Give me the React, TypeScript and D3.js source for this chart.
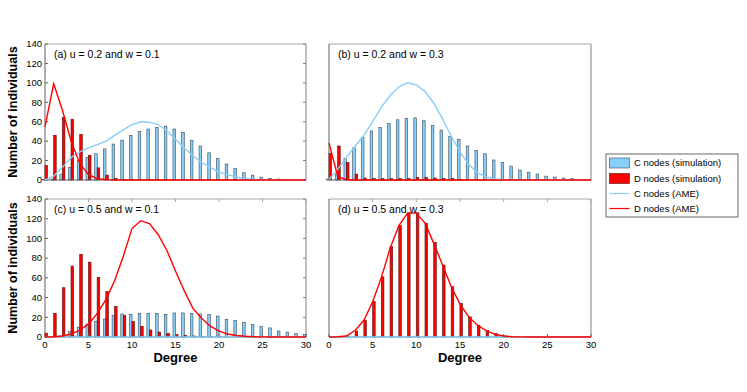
import React from "react";
import * as d3 from "d3";

const degrees = d3.range(0, 31);

// Panel (a): u = 0.2, w = 0.1
const aCSim = [0.5, 1, 6, 13, 20, 23, 27, 32, 37, 41, 46, 50, 52.5, 54, 55.5, 52.5, 49, 41, 35, 28, 22, 16.5, 11.7, 7.5, 5, 3, 1.7, 1, 0.5, 0.2, 0];
const aDSim = [15, 46, 64.5, 62.5, 47, 25.5, 12.5, 5, 1.5, 0.5, 0, 0, 0, 0, 0, 0, 0, 0, 0, 0, 0, 0, 0, 0, 0, 0, 0, 0, 0, 0, 0];
const aCAme = [0, 4, 13, 23, 29, 33, 36.5, 40, 46, 51.5, 57, 60, 59.5, 57, 51, 42, 33, 25, 18, 13, 8, 5.5, 3, 1.5, 0.6, 0.3, 0.1, 0, 0, 0, 0];
const aDAme = [55, 99, 72, 40, 17, 5.5, 1.5, 0.4, 0.1, 0, 0, 0, 0, 0, 0, 0, 0, 0, 0, 0, 0, 0, 0, 0, 0, 0, 0, 0, 0, 0, 0];

// Panel (b): u = 0.2, w = 0.3
const bCSim = [1, 6, 22, 33, 44, 50.5, 54, 58, 62, 63.5, 64, 61, 56, 51.5, 45, 42, 35, 30.5, 27, 20.6, 18, 14.4, 10.3, 8, 6.2, 4, 3, 2, 1.4, 0.7, 0.3];
const bDSim = [27.5, 35, 18, 6, 2, 1.5, 1.5, 1.5, 1.5, 1.5, 2.5, 2.5, 2, 1.5, 1.5, 0.5, 0, 0, 0, 0, 0, 0, 0, 0, 0, 0, 0, 0, 0, 0, 0];
const bCAme = [0.5, 11, 23, 35, 46, 60, 75, 87, 96, 100, 98, 91, 79, 63, 45, 29, 16, 7.5, 3, 1, 0.3, 0.1, 0, 0, 0, 0, 0, 0, 0, 0, 0];
const bDAme = [38, 4, 0.2, 0, 0, 0, 0, 0, 0, 0, 0, 0, 0, 0, 0, 0, 0, 0, 0, 0, 0, 0, 0, 0, 0, 0, 0, 0, 0, 0, 0];

// Panel (c): u = 0.5, w = 0.1
const cCSim = [0, 0, 1, 5.4, 10, 13.3, 16, 18.3, 21.7, 23.4, 23, 23.8, 24, 24, 23, 24.4, 24.4, 23.8, 23.4, 22.8, 21.3, 18, 17, 15, 12.6, 10.9, 9.2, 6.1, 5, 3.4, 2.7];
const cDSim = [4, 24, 50, 72, 84, 76, 60.5, 46, 31, 21.7, 15.6, 10.9, 7.1, 5.1, 3.7, 2.4, 1.7, 1, 0.5, 0.3, 0.2, 0, 0, 0, 0, 0, 0, 0, 0, 0, 0];
const cCAme = [0, 0, 0, 0, 0, 0, 0, 0, 0, 0, 0, 0, 0, 0, 0, 0, 0, 0, 0, 0, 0, 0, 0, 0, 0, 0, 0, 0, 0, 0, 0];
const cDAme = [0, 0.3, 1, 3, 7, 13, 24, 38, 57, 82, 110, 118, 115, 104, 88, 67, 47, 29, 19, 11, 6, 3, 1.5, 0.7, 0.3, 0.1, 0, 0, 0, 0, 0];

// Panel (d): u = 0.5, w = 0.3
const dCSim = [0, 0, 0, 0, 0, 0, 0, 0, 0, 0, 0, 0, 0, 0, 0, 0, 0, 0, 0, 0, 0, 0, 0, 0, 0, 0, 0, 0, 0, 0, 0];
const dDSim = [0, 0.2, 1, 6, 17, 36, 61, 92, 113, 126, 126, 115.5, 96, 73, 51, 34, 20.4, 12, 6.5, 3.4, 1, 0.3, 0, 0, 0, 0, 0, 0, 0, 0, 0];
const dCAme = [0, 0, 0, 0, 0, 0, 0, 0, 0, 0, 0, 0, 0, 0, 0, 0, 0, 0, 0, 0, 0, 0, 0, 0, 0, 0, 0, 0, 0, 0, 0];
const dDAme = [0, 0.2, 1, 6.8, 17, 35.7, 60.5, 90, 113, 125.7, 125.7, 115.5, 95, 73, 51, 33.3, 20.4, 11.9, 6.5, 2.7, 1, 0.3, 0.1, 0, 0, 0, 0, 0, 0, 0, 0];

const panelTitles = ["(a) u = 0.2 and w = 0.1", "(b) u = 0.2 and w = 0.3", "(c) u = 0.5 and w = 0.1", "(d) u = 0.5 and w = 0.3"];
const xTicks = [0, 5, 10, 15, 20, 25, 30];
const yTicks = [0, 20, 40, 60, 80, 100, 120, 140];
const legendLabels = ["C nodes (simulation)", "D nodes (simulation)", "C nodes (AME)", "D nodes (AME)"];

const C_FILL = "#87cefa";
const D_FILL = "#ff0000";
const C_LINE = "#87cefa";
const D_LINE = "#ff0000";
const FONT = "Liberation Sans, Arial, Helvetica, sans-serif";

type PanelProps = {
  x0: number; x1: number; y0: number; y1: number;
  cSim: number[]; dSim: number[]; cAme: number[]; dAme: number[];
  title: string; showY: boolean; showX: boolean;
};

function Panel({ x0, x1, y0, y1, cSim, dSim, cAme, dAme, title, showY, showX }: PanelProps) {
  const x = d3.scaleLinear().domain([0, 30]).range([x0, x1]);
  const y = d3.scaleLinear().domain([0, 140]).range([y1, y0]);
  const bw = 2.6;
  const off = 0.14;
  const line = d3.line<number>().x((_, i) => x(degrees[i])).y((v) => y(v));
  return (
    <g>
      {degrees.map((k, i) => (
        <g key={k}>
          {cSim[i] > 0 && (
            <rect x={x(k - off) - bw / 2} y={y(cSim[i])} width={bw} height={y(0) - y(cSim[i])}
              fill={C_FILL} stroke="#3a4a5a" strokeWidth={0.6} />
          )}
          {dSim[i] > 0 && (
            <rect x={x(k + off) - bw / 2} y={y(dSim[i])} width={bw} height={y(0) - y(dSim[i])}
              fill={D_FILL} stroke="#5a1010" strokeWidth={0.6} />
          )}
        </g>
      ))}
      {/* box */}
      <line x1={x0} x2={x1} y1={y0} y2={y0} stroke="#a8a8a8" strokeWidth={1} />
      <line x1={x1} x2={x1} y1={y0} y2={y1} stroke="#808080" strokeWidth={1} />
      <line x1={x0} x2={x0} y1={y0} y2={y1} stroke="#606060" strokeWidth={1} />
      <line x1={x0} x2={x1} y1={y1} y2={y1} stroke="#606060" strokeWidth={1} />
      {showY && yTicks.map((t) => (
        <g key={"y" + t}>
          <line x1={x0} x2={x0 + 3} y1={y(t)} y2={y(t)} stroke="#606060" />
          <line x1={x1} x2={x1 - 3} y1={y(t)} y2={y(t)} stroke="#808080" />
          <text x={x0 - 3} y={y(t)} dy="0.35em" textAnchor="end" fontSize={9.5} fontFamily={FONT} fill="#000">{t}</text>
        </g>
      ))}
      {showX && xTicks.map((t) => (
        <g key={"x" + t}>
          <line x1={x(t)} x2={x(t)} y1={y1} y2={y1 - 3} stroke="#606060" />
          <line x1={x(t)} x2={x(t)} y1={y0} y2={y0 + 3} stroke="#a8a8a8" />
          <text x={x(t)} y={y1 + 11} textAnchor="middle" fontSize={9.5} fontFamily={FONT} fill="#000">{t}</text>
        </g>
      ))}
      <path d={line(cAme) || ""} fill="none" stroke={C_LINE} strokeWidth={1.4} />
      <path d={line(dAme) || ""} fill="none" stroke={D_LINE} strokeWidth={1.4} />
      <text x={x0 + 9} y={y0 + 14} fontSize={10.5} fontFamily={FONT} fill="#000">{title}</text>
      {showX && (
        <text x={(x0 + x1) / 2} y={y1 + 25} textAnchor="middle" fontSize={13} fontWeight="bold" fontFamily={FONT} fill="#000">Degree</text>
      )}
    </g>
  );
}

export default function App() {
  const W = 747, H = 392;
  const L = { x: 606, y: 154, w: 132, h: 63 };
  const rows = [163, 178.5, 193.5, 208.5];
  return (
    <svg width={W} height={H} style={{ position: "absolute", left: 0, top: 0, background: "#fff" }}>
      <rect x={0} y={0} width={W} height={H} fill="#fff" />
      <Panel x0={45} x1={306} y0={44} y1={180} cSim={aCSim} dSim={aDSim} cAme={aCAme} dAme={aDAme} title={panelTitles[0]} showY={true} showX={false} />
      <Panel x0={329} x1={591} y0={44} y1={180} cSim={bCSim} dSim={bDSim} cAme={bCAme} dAme={bDAme} title={panelTitles[1]} showY={false} showX={false} />
      <Panel x0={45} x1={306} y0={199} y1={337} cSim={cCSim} dSim={cDSim} cAme={cCAme} dAme={cDAme} title={panelTitles[2]} showY={true} showX={true} />
      <Panel x0={329} x1={591} y0={199} y1={337} cSim={dCSim} dSim={dDSim} cAme={dCAme} dAme={dDAme} title={panelTitles[3]} showY={false} showX={true} />
      <text transform={`translate(17,112) rotate(-90)`} textAnchor="middle" fontSize={12.5} fontWeight="bold" fontFamily={FONT} fill="#000">Number of individuals</text>
      <text transform={`translate(17,268) rotate(-90)`} textAnchor="middle" fontSize={12.5} fontWeight="bold" fontFamily={FONT} fill="#000">Number of individuals</text>
      {/* legend */}
      <rect x={L.x} y={L.y} width={L.w} height={L.h} fill="#fff" stroke="#444" strokeWidth={0.8} />
      <rect x={609.5} y={rows[0] - 5} width={20} height={10} fill={C_FILL} stroke="#3a4a5a" strokeWidth={0.6} />
      <rect x={609.5} y={rows[1] - 5} width={20} height={10} fill={D_FILL} stroke="#5a1010" strokeWidth={0.6} />
      <line x1={609.5} x2={629.5} y1={rows[2]} y2={rows[2]} stroke={C_LINE} strokeWidth={1.2} />
      <line x1={609.5} x2={629.5} y1={rows[3]} y2={rows[3]} stroke={D_LINE} strokeWidth={1.2} />
      {legendLabels.map((s, i) => (
        <text key={s} x={634} y={rows[i]} dy="0.35em" fontSize={9.5} fontFamily={FONT} fill="#000">{s}</text>
      ))}
    </svg>
  );
}
